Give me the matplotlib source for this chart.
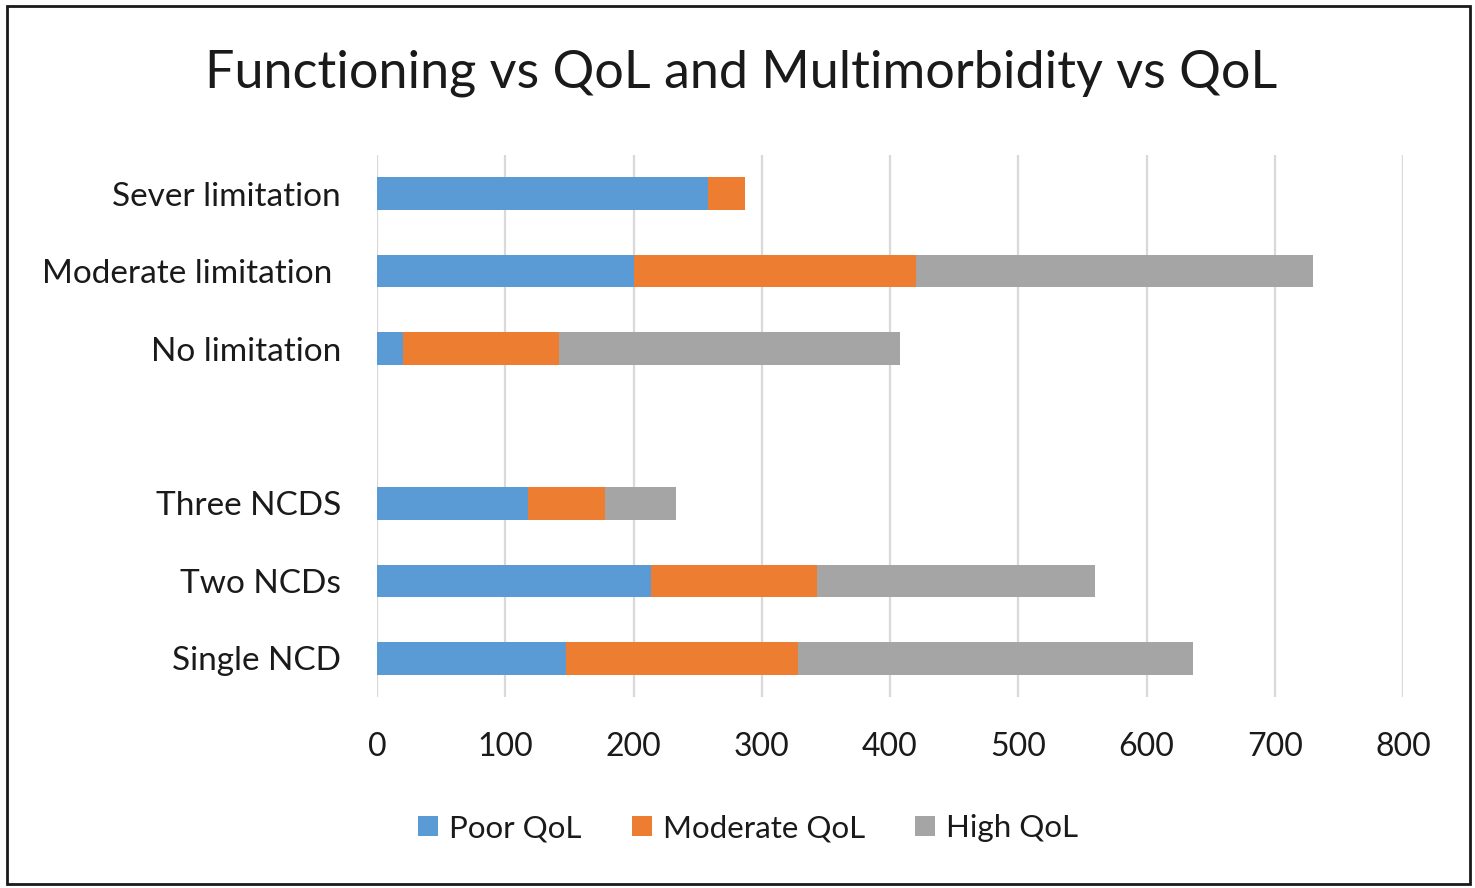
import matplotlib
matplotlib.use("Agg")
import matplotlib.pyplot as plt
from matplotlib.patches import Rectangle
import numpy as np

plt.rcParams['font.family'] = ['Lato', 'DejaVu Sans']

categories = ["Single NCD", "Two NCDs", "Three NCDS", "",
              "No limitation", "Moderate limitation ", "Sever limitation"]
poor_qol = [147, 214, 118, 0, 20, 200, 258]
moderate_qol = [181, 129, 60, 0, 122, 220, 29]
high_qol = [308, 217, 55, 0, 266, 310, 0]
series_names = ["Poor QoL", "Moderate QoL", "High QoL"]
colors = ["#5B9BD5", "#ED7D31", "#A5A5A5"]
xticks = [0, 100, 200, 300, 400, 500, 600, 700, 800]

fig = plt.figure(figsize=(14.75, 8.88), dpi=100)
ax = fig.add_axes([377/1475, 1-697/888, (1403-377)/1475, (697-155)/888])

y = np.arange(len(categories))
left = np.zeros(len(categories))
handles = []
for vals, name, c in zip([poor_qol, moderate_qol, high_qol], series_names, colors):
    vals = np.array(vals, dtype=float)
    h = ax.barh(y, vals, left=left, height=0.42, color=c, label=name, zorder=3)
    handles.append(h)
    left += vals

ax.set_xlim(0, 800)
ax.set_ylim(-0.5, 6.5)
ax.set_xticks(xticks)
ax.set_xticklabels([str(t) for t in xticks])
ax.set_yticks(y)
ax.set_yticklabels(categories)
ax.tick_params(axis='x', length=0, labelsize=23, colors='#1a1a1a', pad=25)
ax.tick_params(axis='y', length=0, labelsize=24, colors='#1a1a1a', pad=26)
ax.grid(axis='x', color='#d9d9d9', linewidth=1.6, zorder=0)
ax.set_axisbelow(True)
for s in ax.spines.values():
    s.set_visible(False)

fig.text(741/1475, 1-73/888, "Functioning vs QoL and Multimorbidity vs QoL",
         ha='center', va='center', fontsize=37.5, color='#1a1a1a')

fig.legend(handles=handles, labels=series_names, loc='center',
           bbox_to_anchor=(748/1475, 1-828/888), ncol=3, frameon=False,
           fontsize=22.5, handlelength=0.65, handleheight=0.65, handletextpad=0.35,
           columnspacing=1.6, labelcolor='#1a1a1a')

fig.patches.append(Rectangle((7/1475, 4/888), 1463/1475, 878/888,
                             transform=fig.transFigure, fill=False,
                             edgecolor='#1a1a1a', linewidth=2))

fig.savefig("out.png", dpi=100, facecolor='white')
